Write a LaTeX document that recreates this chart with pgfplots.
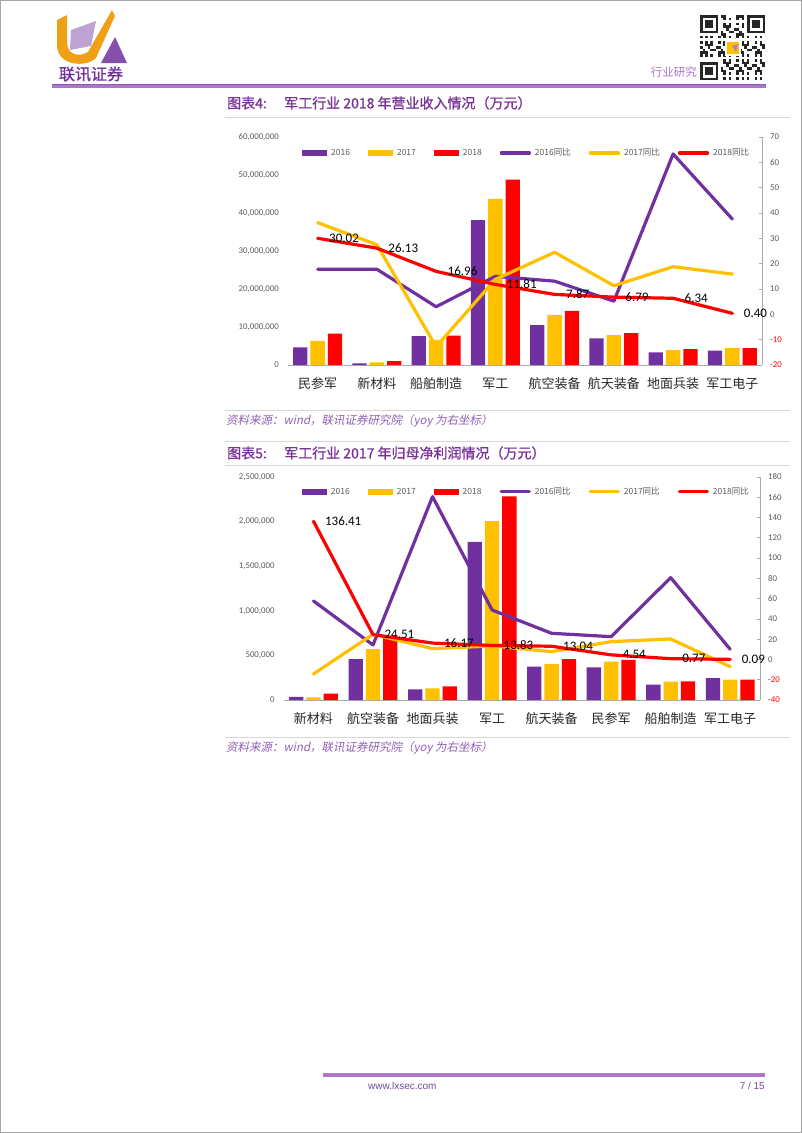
\documentclass[border=0pt]{standalone}
\usepackage{fontspec}
\usepackage{pgfplots}
\pgfplotsset{compat=1.18}
\setmainfont{Carlito}
\newfontfamily\cjk{Noto Sans CJK SC}
\newfontfamily\cjkb[FakeBold=1.2]{Noto Sans CJK SC}
\newfontfamily\cjki[FakeSlant=0.2]{Noto Sans CJK SC}
\newfontfamily\arial{Liberation Sans}
\definecolor{c16}{RGB}{112,48,160}
\definecolor{c17}{RGB}{255,192,0}
\definecolor{c18}{RGB}{255,0,0}
\definecolor{ttl}{RGB}{122,52,150}
\definecolor{src}{RGB}{145,95,180}
\definecolor{hdr}{RGB}{172,118,205}
\definecolor{tickc}{RGB}{89,89,89}
\definecolor{axgray}{RGB}{170,170,170}
\definecolor{sepc}{RGB}{215,215,215}
\definecolor{logoor}{RGB}{240,160,20}
\pgfplotsset{
  barlegend/.style={legend image code/.code={\fill[##1] (0pt,-3pt) rectangle (25pt,3pt);}},
  linelegend/.style={legend image code/.code={\draw[##1] (0pt,0pt) -- (28pt,0pt);}},
  leftax/.style={scale only axis, anchor=south west, xmin=-0.5, xmax=7.5, ymin=0,
    axis x line*=bottom, axis y line*=left,
    y axis line style={draw=none}, x axis line style={draw=axgray, line width=0.9pt},
    xtick={0,1,2,3,4,5,6,7}, major tick length=0pt,
    xticklabel style={font=\cjk\fontsize{13}{13}\selectfont, text=black!85, anchor=base, yshift=-23pt, inner sep=0pt},
    scaled y ticks=false,
    yticklabel style={font=\fontsize{8.8}{9}\selectfont, text=tickc, anchor=east, xshift=-9pt, inner sep=0pt,
      /pgf/number format/.cd, fixed, 1000 sep={,}, assume math mode=true},
    ybar=3pt, bar width=14.3pt, clip=false},
  rightax/.style={scale only axis, anchor=south west, xmin=-0.5, xmax=7.5,
    axis x line=none, axis y line*=right,
    y axis line style={draw=axgray, line width=0.9pt},
    ytick style={draw=axgray, line width=0.8pt}, major tick length=3.5pt, tick align=inside,
    yticklabel style={font=\fontsize{8.8}{9}\selectfont, text=tickc, anchor=west, xshift=8pt, inner sep=0pt},
    linelegend, legend columns=6,
    legend style={draw=none, fill=none, anchor=west, inner sep=0pt, font=\cjk\fontsize{8.5}{9}\selectfont, text=tickc,
      nodes={inner sep=0pt},
      /tikz/every odd column/.append style={column sep=4pt},
      /tikz/every even column/.append style={column sep=18pt}},
    clip=false},
  yoy/.style={line width=3.2pt, line join=round, line cap=round},
  lbl/.style={nodes near coords, point meta=explicit symbolic,
    every node near coord/.append style={anchor=west, xshift=10pt, inner sep=0pt, font=\fontsize{13}{13}\selectfont, text=black}},
}
\begin{document}
\begin{tikzpicture}
\useasboundingbox (0,0) rectangle (802pt,-1133pt);
% ================= Chart 1 =================
\begin{axis}[leftax, at={(288pt,-365pt)}, width=474pt, height=228pt, ymax=60000000,
  ytick={0,10000000,20000000,30000000,40000000,50000000,60000000},
  xticklabels={民参军,新材料,船舶制造,军工,航空装备,航天装备,地面兵装,军工电子}]
\addplot[fill=c16, draw=none] coordinates {(0,4660000) (1,450000) (2,7600000) (3,38100000) (4,10500000) (5,7000000) (6,3300000) (7,3800000)};
\addplot[fill=c17, draw=none] coordinates {(0,6350000) (1,700000) (2,6630000) (3,43700000) (4,13100000) (5,7850000) (6,3920000) (7,4450000)};
\addplot[fill=c18, draw=none] coordinates {(0,8260000) (1,1050000) (2,7750000) (3,48800000) (4,14250000) (5,8380000) (6,4170000) (7,4470000)};
\end{axis}
\begin{axis}[rightax, at={(288pt,-365pt)}, width=474pt, height=228pt, ymin=-20, ymax=70,
  ytick={-20,-10,0,10,20,30,40,50,60,70},
  yticklabels={{\color{red}-20},{\color{red}-10},0,10,20,30,40,50,60,70},
  legend style={at={(0.0295,0.93)}}]
\addlegendimage{barlegend, fill=c16, draw=none}\addlegendentry{2016}
\addlegendimage{barlegend, fill=c17, draw=none}\addlegendentry{2017}
\addlegendimage{barlegend, fill=c18, draw=none}\addlegendentry{2018}
\addplot[c16, yoy] coordinates {(0,17.8) (1,17.8) (2,3.0) (3,15.0) (4,13.1) (5,5.2) (6,63.3) (7,37.6)};
\addlegendentry{2016同比}
\addplot[c17, yoy] coordinates {(0,36.2) (1,27.5) (2,-12.8) (3,13.8) (4,24.5) (5,11.3) (6,18.8) (7,15.9)};
\addlegendentry{2017同比}
\addplot[c18, yoy, lbl] coordinates {(0,30.02) [30.02] (1,26.13) [26.13] (2,16.96) [16.96] (3,11.81) [11.81] (4,7.87) [7.87] (5,6.79) [6.79] (6,6.34) [6.34] (7,0.40) [0.40]};
\addlegendentry{2018同比}
\end{axis}
% ================= Chart 2 =================
\begin{axis}[leftax, at={(283.7pt,-700pt)}, width=476.3pt, height=223pt, ymax=2500000,
  ytick={0,500000,1000000,1500000,2000000,2500000},
  xticklabels={新材料,航空装备,地面兵装,军工,航天装备,民参军,船舶制造,军工电子}]
\addplot[fill=c16, draw=none] coordinates {(0,35000) (1,457000) (2,118000) (3,1772000) (4,375000) (5,365000) (6,172000) (7,245000)};
\addplot[fill=c17, draw=none] coordinates {(0,30000) (1,570000) (2,131000) (3,2006000) (4,404000) (5,430000) (6,206000) (7,228000)};
\addplot[fill=c18, draw=none] coordinates {(0,71000) (1,710000) (2,152000) (3,2283000) (4,457000) (5,450000) (6,208000) (7,228000)};
\end{axis}
\begin{axis}[rightax, at={(283.7pt,-700pt)}, width=476.3pt, height=223pt, ymin=-40, ymax=180,
  ytick={-40,-20,0,20,40,60,80,100,120,140,160,180},
  yticklabels={{\color{red}-40},{\color{red}-20},0,20,40,60,80,100,120,140,160,180},
  legend style={at={(0.038,0.934)}}]
\addlegendimage{barlegend, fill=c16, draw=none}\addlegendentry{2016}
\addlegendimage{barlegend, fill=c17, draw=none}\addlegendentry{2017}
\addlegendimage{barlegend, fill=c18, draw=none}\addlegendentry{2018}
\addplot[c16, yoy] coordinates {(0,57.7) (1,14.3) (2,160.6) (3,48.8) (4,25.8) (5,22.5) (6,80.7) (7,10.0)};
\addlegendentry{2016同比}
\addplot[c17, yoy] coordinates {(0,-14.3) (1,24.8) (2,10.7) (3,13.3) (4,7.7) (5,17.6) (6,20.2) (7,-7.1)};
\addlegendentry{2017同比}
\addplot[c18, yoy, lbl] coordinates {(0,136.41) [136.41] (1,24.51) [24.51] (2,16.17) [16.17] (3,13.83) [13.83] (4,13.04) [13.04] (5,4.54) [4.54] (6,0.77) [0.77] (7,0.09) [0.09]};
\addlegendentry{2018同比}
\end{axis}
% ================= Page decorations =================
\begin{scope}[x=1pt,y=-1pt]
% page border
\draw[gray!70, line width=1pt] (0.5,0.5) rectangle (801.5,1132.5);
% logo
\fill[logoor] (57,20) -- (67,15) -- (67,42) .. controls (67,54) and (78,58) .. (88,52) -- (112,10) -- (115,16) -- (96,58) .. controls (86,68) and (57,66) .. (57,45) -- cycle;
\fill[c16!45] (71,30) -- (96,21) -- (91,46) -- (70,50) -- cycle;
\fill[c16!85] (101,63) -- (115,37) -- (127,63) -- cycle;
\node[anchor=center, text=c16, font=\cjkb\fontsize{16}{16}\selectfont, inner sep=0pt] at (91,74) {联讯证券};
% QR code
\foreach \i in {0,...,24}{\foreach \j in {0,...,24}{
  \pgfmathtruncatemacro\v{(mod(\i*\i*7+\j*\j*5+\i*\j*3+\i+2*\j,7)<3) && !((\i<8 && \j<8) || (\i>16 && \j<8) || (\i<8 && \j>16))}
  \ifnum\v=1 \fill[black!85] (700+\i*2.6,15+\j*2.6) rectangle ++(2.6,2.6); \fi
}}
\foreach \x/\y in {700/15,747/15,700/62}{
  \fill[black!85] (\x,\y) rectangle ++(18.2,18.2);
  \fill[white] (\x+2.6,\y+2.6) rectangle ++(13,13);
  \fill[black!85] (\x+5.2,\y+5.2) rectangle ++(7.8,7.8);
}
\fill[white] (725,40) rectangle (741,56);
\fill[c17] (727,42) rectangle (739,54);
\fill[c16!60] (732,46) -- (738,44) -- (736,52) -- cycle;
\node[anchor=east, text=hdr, font=\cjk\fontsize{11.5}{12}\selectfont, inner sep=0pt] at (697,72) {行业研究};
% header line
\draw[hdr, line width=3pt] (52,86) -- (766,86);
\draw[c16!80, line width=0.7pt] (52,84.3) -- (766,84.3);
% title 1
\node[anchor=west, text=ttl, font=\cjkb\fontsize{14}{14}\selectfont, inner sep=0pt] at (227,103) {图表4:};
\node[anchor=west, text=ttl, font=\cjkb\fontsize{14}{14}\selectfont, inner sep=0pt] at (284,103) {军工行业 2018 年营业收入情况（万元）};
\draw[sepc, line width=1pt] (225,117) -- (790,117);
\draw[sepc, line width=1pt] (225,410) -- (790,410);
\node[anchor=west, text=src, font=\cjki\fontsize{11.5}{12}\selectfont, inner sep=0pt] at (226,421) {资料来源：wind，联讯证券研究院（yoy 为右坐标）};
\draw[sepc, line width=1pt] (225,441) -- (790,441);
% title 2
\node[anchor=west, text=ttl, font=\cjkb\fontsize{14}{14}\selectfont, inner sep=0pt] at (227,453) {图表5:};
\node[anchor=west, text=ttl, font=\cjkb\fontsize{14}{14}\selectfont, inner sep=0pt] at (284,453) {军工行业 2017 年归母净利润情况（万元）};
\draw[sepc, line width=1pt] (225,465) -- (790,465);
\draw[sepc, line width=1pt] (225,737) -- (790,737);
\node[anchor=west, text=src, font=\cjki\fontsize{11.5}{12}\selectfont, inner sep=0pt] at (226,748) {资料来源：wind，联讯证券研究院（yoy 为右坐标）};
% footer
\draw[hdr, line width=3pt] (323,1075) -- (765,1075);
\draw[c16!60, line width=0.7pt] (323,1073.4) -- (765,1073.4);
\node[anchor=west, text=c16!70!gray, font=\arial\fontsize{10}{10}\selectfont, inner sep=0pt] at (368,1086) {www.lxsec.com};
\node[anchor=east, text=c16!70!gray, font=\arial\fontsize{10}{10}\selectfont, inner sep=0pt] at (765,1086) {7 / 15};
\end{scope}
\end{tikzpicture}
\end{document}
